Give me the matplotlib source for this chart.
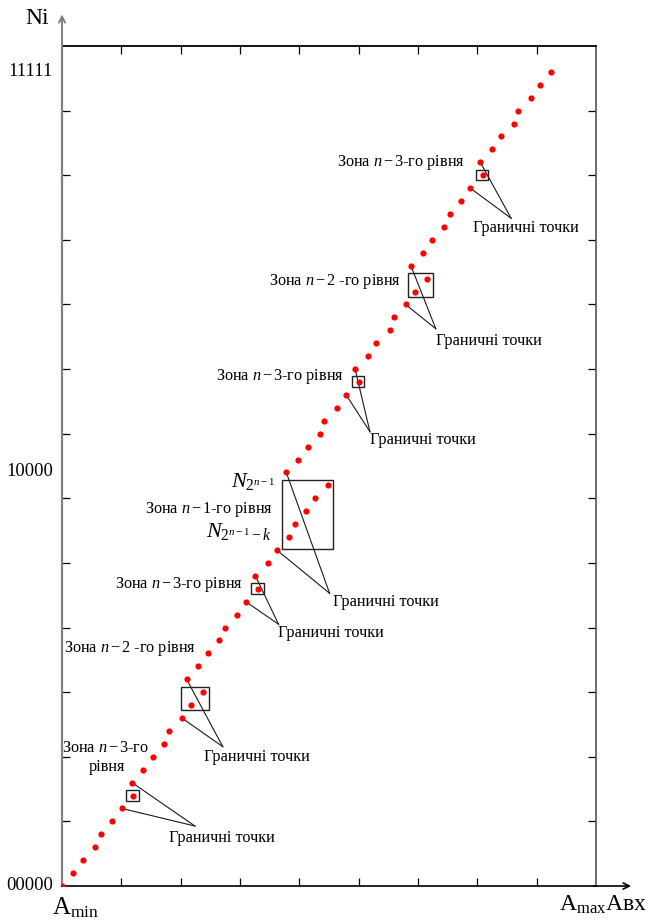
import matplotlib
matplotlib.use("Agg")
import matplotlib.pyplot as plt
from matplotlib.patches import Rectangle

plt.rcParams['font.family'] = ['Liberation Serif', 'DejaVu Serif']
plt.rcParams['mathtext.fontset'] = 'custom'
plt.rcParams['mathtext.rm'] = 'Liberation Serif'
plt.rcParams['mathtext.it'] = 'Liberation Serif:italic'
plt.rcParams['mathtext.bf'] = 'Liberation Serif:bold'

# input amplitude (x) for every output code Ni = 0..63
amplitude = [0.00, 0.19, 0.35, 0.56, 0.65, 0.84, 1.01, 1.20,
             1.18, 1.36, 1.53, 1.72, 1.80, 2.02, 2.17, 2.38,
             2.10, 2.29, 2.46, 2.65, 2.74, 2.95, 3.10, 3.31,
             3.26, 3.47, 3.62, 3.83, 3.92, 4.11, 4.26, 4.48,
             3.78, 3.97, 4.15, 4.34, 4.42, 4.63, 4.79, 5.00,
             4.94, 5.15, 5.30, 5.52, 5.60, 5.79, 5.95, 6.16,
             5.88, 6.08, 6.24, 6.44, 6.54, 6.73, 6.88, 7.09,
             7.05, 7.25, 7.40, 7.61, 7.69, 7.90, 8.06, 8.25]
codes = list(range(len(amplitude)))

# codes inside each zone box and the two boundary codes of each zone
zone_codes = [[7], [14, 15], [23], [27, 28, 29, 30, 31], [39], [46, 47], [55]]
boundary_codes = [(6, 8), (13, 16), (22, 24), (26, 32), (38, 40), (45, 48), (54, 56)]

y_label_codes = [0, 32, 63]
y_label_text = ["00000", "10000", "11111"]

# layout (data units): where the leader lines meet and where "Граничні точки" sits
meet_pts = [(2.24, 4.64), (2.71, 10.78), (3.65, 20.25), (4.51, 22.65),
            (5.19, 35.15), (6.30, 43.12), (7.57, 51.67)]
bound_text_pos = [(1.80, 3.71), (2.40, 9.96), (3.64, 19.60), (4.57, 22.0),
                  (5.19, 34.51), (6.30, 42.2), (6.92, 50.89)]

zone_labels = [
    (4.63, 55.95, r"Зона $n\,{-}\,\mathit{3}$-го рівня"),
    (3.49, 46.76, r"Зона $n\,{-}\,\mathit{2}$ -го рівня"),
    (2.59, 39.46, r"Зона $n\,{-}\,\mathit{3}$-го рівня"),
    (1.40, 29.14, r"Зона $n\,{-}\,\mathit{1}$-го рівня"),
    (0.89, 23.35, r"Зона $n\,{-}\,\mathit{3}$-го рівня"),
    (0.04, 18.34, r"Зона $n\,{-}\,\mathit{2}$ -го рівня"),
    (0.00, 10.70, r"Зона $n\,{-}\,\mathit{3}$-го"),
]

fig = plt.figure(figsize=(6.6, 9.21), dpi=100)
ax = fig.add_axes([62 / 660, 1 - 886 / 921, 534 / 660, 840 / 921])
ax.set_xlim(0, 9)
ax.set_ylim(0, 65)

ax.scatter(amplitude, codes, s=20, color='#ff0000', zorder=5, linewidths=0)

# zone boxes around their codes
for k, zc in enumerate(zone_codes):
    xs = [amplitude[i] for i in zc]
    pad_b = 0.93 if k == 3 else 0.39
    pad_l = 0.17 if k == 1 else 0.12
    x0 = min(xs) - pad_l
    x1 = max(xs) + 0.095
    y0 = min(zc) - pad_b
    y1 = max(zc) + 0.43
    ax.add_patch(Rectangle((x0, y0), x1 - x0, y1 - y0, fill=False,
                           edgecolor='#222222', lw=1.0, zorder=3))

# leader lines from the boundary points
for (a, b), (mx, my), (tx, ty) in zip(boundary_codes, meet_pts, bound_text_pos):
    for i in (a, b):
        ax.plot([amplitude[i], mx], [i, my], color='#1a1a1a', lw=0.8, zorder=2)
    ax.text(tx, ty, "Граничні точки", fontsize=11.7, ha='left', va='center')

for x, y, t in zone_labels:
    ax.text(x, y, t, fontsize=11.7, ha='left', va='center')
ax.text(0.76, 9.23, "рівня", fontsize=11.7, ha='center', va='center')

ax.text(3.60, 31.3, r"$N_{2^{n-1}}$", fontsize=16, ha='right', va='center')
ax.text(3.54, 27.4, r"$N_{2^{n-1}-k}$", fontsize=16, ha='right', va='center')

for c, t in zip(y_label_codes, y_label_text):
    ax.annotate(t, xy=(0, c), xytext=(-6.5, 0.5), textcoords='offset points',
                ha='right', va='center', fontsize=13.3, annotation_clip=False)

# frame and ticks
ax.set_xticks(range(1, 9))
ax.set_yticks(range(5, 65, 5))
ax.tick_params(direction='in', top=True, right=True, length=5.5, width=0.9,
               labelleft=False, labelbottom=False)
ax.spines['left'].set_color('#808080')
ax.spines['left'].set_linewidth(1.6)
ax.spines['right'].set_color('#555555')
ax.spines['right'].set_linewidth(1.2)
ax.spines['top'].set_linewidth(1.3)
ax.spines['bottom'].set_linewidth(1.2)

# axis arrows
ax.annotate('', xy=(0, 1.041), xytext=(0, 0.99), xycoords='axes fraction',
            arrowprops=dict(arrowstyle='->', color='#808080', lw=1.4,
                            mutation_scale=11), annotation_clip=False)
ax.annotate('', xy=(1.071, 0), xytext=(0.99, 0), xycoords='axes fraction',
            arrowprops=dict(arrowstyle='->', color='black', lw=1.2,
                            mutation_scale=11), annotation_clip=False)

fig.text(49 / 660, 1 - 19 / 921, "Ni", fontsize=17, ha='right', va='center')
fig.text(52 / 660, 1 - 914 / 921, r"$\mathrm{A}_{\mathrm{min}}$", fontsize=18,
         ha='left', va='baseline')
fig.text(559 / 660, 1 - 911 / 921, r"$\mathrm{A}_{\mathrm{max}}$Aвх", fontsize=17,
         ha='left', va='baseline')

fig.savefig("out.png", dpi=100)
